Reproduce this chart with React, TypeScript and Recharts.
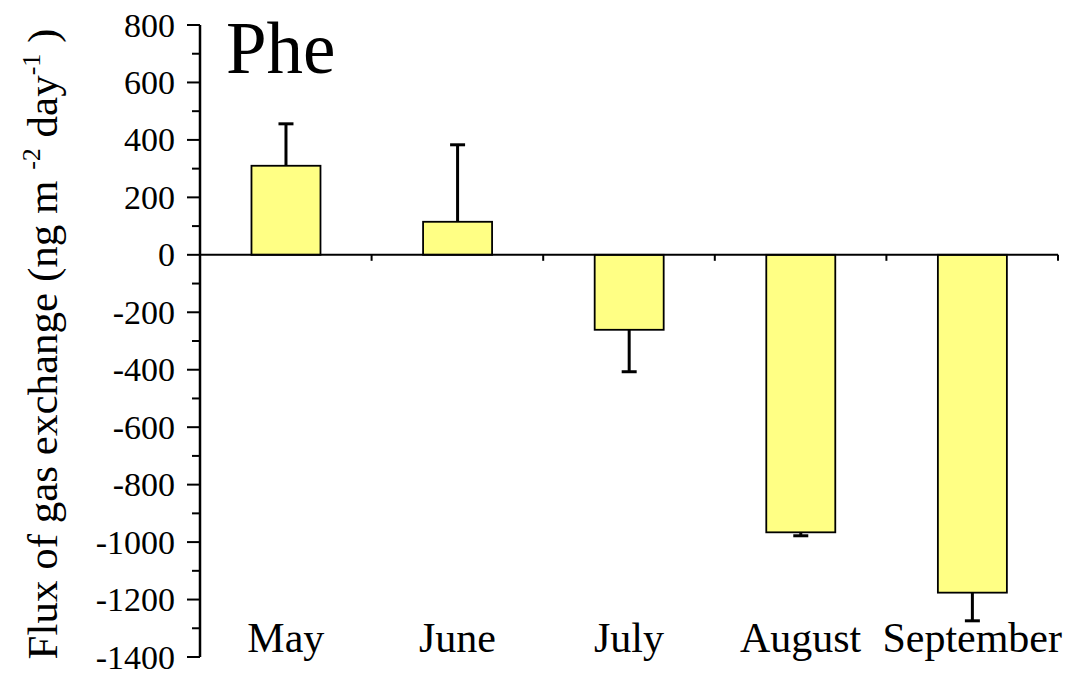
import { BarChart, Bar, XAxis, YAxis, ReferenceLine } from "recharts";

const months = ["May", "June", "July", "August", "September"];
const flux = [310, 115, -261, -966, -1176];
const fluxErr = [146, 268, 146, 12, 98];
const yTicks = [
  -1400, -1300, -1200, -1100, -1000, -900, -800, -700, -600, -500, -400, -300,
  -200, -100, 0, 100, 200, 300, 400, 500, 600, 700, 800,
];

const data = months.map((month, i) => ({ month, flux: flux[i], err: fluxErr[i] }));

const FONT = '"Liberation Serif", "Times New Roman", serif';

// bar with a one-sided error whisker pointing away from zero
function FluxBar(props: any) {
  const { x, y, width, height, payload } = props;
  const top = Math.min(y, y + height);
  const h = Math.abs(height);
  const pxPerUnit = payload.flux !== 0 ? h / Math.abs(payload.flux) : 0;
  const errPx = payload.err * pxPerUnit;
  const cx = x + width / 2;
  const start = payload.flux >= 0 ? top : top + h;
  const end = payload.flux >= 0 ? start - errPx : start + errPx;
  return (
    <g>
      <rect x={x} y={top} width={width} height={h} fill="#ffff84" stroke="#000" strokeWidth={1.8} />
      <line x1={cx} y1={start} x2={cx} y2={end} stroke="#000" strokeWidth={3} />
      <line x1={cx - 7.5} y1={end} x2={cx + 7.5} y2={end} stroke="#000" strokeWidth={3} />
    </g>
  );
}

function YTick(props: any) {
  const { x, y, payload } = props;
  const major = payload.value % 200 === 0;
  return (
    <g>
      <line x1={x - (major ? 13 : 8)} y1={y} x2={x} y2={y} stroke="#000" strokeWidth={2} />
      {major && (
        <text x={x - 25} y={y} dy="0.34em" textAnchor="end" fontFamily={FONT} fontSize={34} fill="#000">
          {payload.value}
        </text>
      )}
    </g>
  );
}

function XTick(props: any) {
  const { x, y, payload } = props;
  return (
    <text x={x} y={y - 5} textAnchor="middle" fontFamily={FONT} fontSize={42} fill="#000">
      {payload.value}
    </text>
  );
}

// zero line with short ticks at the category boundaries
function ZeroLine(props: any) {
  const { x1, y1, x2 } = props;
  const step = (x2 - x1) / months.length;
  return (
    <g>
      <line x1={x1} y1={y1} x2={x2} y2={y1} stroke="#000" strokeWidth={2} />
      {months.map((_, i) => (
        <line key={i} x1={x1 + step * (i + 1)} y1={y1} x2={x1 + step * (i + 1)} y2={y1 + 6} stroke="#000" strokeWidth={2} />
      ))}
    </g>
  );
}

function AxisTitle(props: any) {
  const { viewBox } = props;
  const x = viewBox.x - 23;
  const y = viewBox.y + viewBox.height / 2 + 3;
  return (
    <text x={x} y={y} transform={`rotate(-90, ${x}, ${y})`} textAnchor="middle" fontFamily={FONT} fontSize={43} fill="#000">
      Flux of gas exchange (ng m{" "}
      <tspan fontSize={26} dy={-17}>-2</tspan>
      <tspan dy={17}> day</tspan>
      <tspan fontSize={26} dy={-17}>-1</tspan>
      <tspan dy={17}> )</tspan>
    </text>
  );
}

export default function App() {
  return (
    <div style={{ position: "absolute", left: 0, top: 0, width: 1073, height: 675, background: "#fff" }}>
      <BarChart
        width={1073}
        height={675}
        data={data}
        margin={{ top: 25, right: 15, bottom: 8, left: 80 }}
        barCategoryGap="30%"
      >
        <XAxis
          dataKey="month"
          height={10}
          axisLine={false}
          tickLine={false}
          tickSize={0}
          tickMargin={0}
          tick={<XTick />}
          interval={0}
        />
        <YAxis
          width={120}
          domain={[-1400, 800]}
          ticks={yTicks}
          interval={0}
          axisLine={{ stroke: "#000", strokeWidth: 2.5 }}
          tickLine={false}
          tickSize={0}
          tickMargin={0}
          tick={<YTick />}
          label={<AxisTitle />}
        />
        <Bar dataKey="flux" shape={<FluxBar />} isAnimationActive={false} />
        <ReferenceLine y={0} shape={<ZeroLine />} />
      </BarChart>
      <div
        style={{
          position: "absolute",
          left: 226,
          top: 12,
          fontFamily: FONT,
          fontSize: 73,
          lineHeight: 1,
          color: "#000",
        }}
      >
        Phe
      </div>
    </div>
  );
}
